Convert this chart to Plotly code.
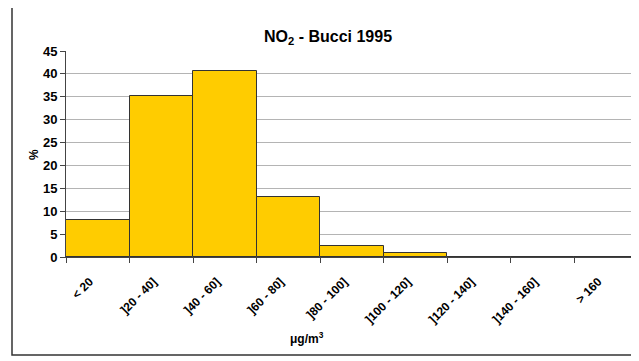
import plotly.graph_objects as go

categories = ["< 20", "]20 - 40]", "]40 - 60]", "]60 - 80]", "]80 - 100]",
              "]100 - 120]", "]120 - 140]", "]140 - 160]", "> 160"]
percent = [8.0, 35.2, 40.6, 13.2, 2.3, 0.8, 0, 0, 0]
y_ticks = [0, 5, 10, 15, 20, 25, 30, 35, 40, 45]

# page body adds an 8px margin, so the figure is drawn from (8, 8)
OFF = 8
W, H = 639 - OFF, 361 - OFF
ml, mr, mt, mb = 66 - OFF, 1, 51 - OFF, 361 - 257
pw, ph = W - ml - mr, H - mt - mb


def px(x):
    return (x - OFF - ml) / pw


def py(y):
    return (H - mb - (y - OFF)) / ph


font = "Liberation Sans, Arial, sans-serif"

fig = go.Figure()
fig.add_trace(go.Bar(
    x=categories, y=percent,
    marker=dict(color="#FFCC00", line=dict(color="#333333", width=1)),
))

fig.update_layout(
    width=W, height=H,
    margin=dict(l=ml, r=mr, t=mt, b=mb, autoexpand=False),
    paper_bgcolor="white", plot_bgcolor="white",
    bargap=0, showlegend=False,
    font=dict(family=font, size=11, color="black"),
)
fig.update_xaxes(
    type="category", tickangle=-45, tickson="boundaries",
    ticks="outside", ticklen=5, tickcolor="#444",
    showline=True, linecolor="#444", linewidth=1,
    showgrid=False, automargin=False,
    ticklabelstandoff=12, ticklabelshift=-8,
    tickfont=dict(family=font, size=12, color="black", weight="bold"),
)
fig.update_yaxes(
    range=[0, 45], tickvals=y_ticks,
    ticks="outside", ticklen=5, tickcolor="#444",
    showline=True, linecolor="#444", linewidth=1,
    showgrid=True, gridcolor="#b4b4b4", gridwidth=1,
    tickfont=dict(family=font, size=13, color="black", weight="bold"),
    zeroline=False, automargin=False,
)

# outer chart frame
fig.add_shape(type="rect", xref="paper", yref="paper",
              x0=px(12), x1=px(660), y0=py(355), y1=py(6),
              line=dict(color="#333", width=1.5), fillcolor="rgba(0,0,0,0)")

fig.add_annotation(text="<b>NO<sub>2</sub> - Bucci 1995</b>", xref="paper", yref="paper",
                   x=px(328), y=py(26), showarrow=False,
                   font=dict(family=font, size=16, color="black"))
fig.add_annotation(text="<b>μg/m<sup>3</sup></b>", xref="paper", yref="paper",
                   x=px(307), y=py(348), showarrow=False,
                   font=dict(family=font, size=12, color="black"))
fig.add_annotation(text="<b>%</b>", xref="paper", yref="paper",
                   x=px(25), y=py(155), showarrow=False, textangle=-90,
                   font=dict(family=font, size=12, color="black"))

fig.write_html("out.html")
